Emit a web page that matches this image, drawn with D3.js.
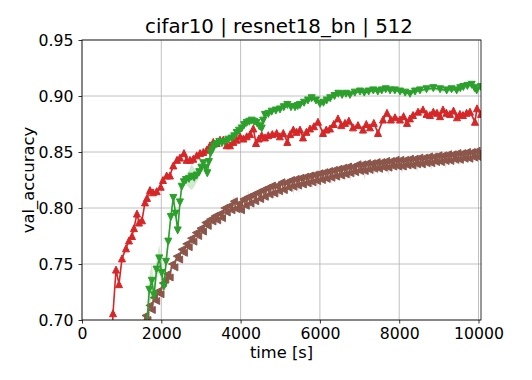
<!DOCTYPE html>
<html>
<head>
<meta charset="utf-8">
<script src="https://cdn.jsdelivr.net/npm/d3@7"></script>
<style>
  body { margin: 0; background: #fff; }
  svg { display: block; }
  text { font-family: "DejaVu Sans", sans-serif; fill: #000; }
</style>
</head>
<body>
<div id="chart"></div>
<script>
// [time s, mean val_accuracy, std]
const redRun = [
  [690,0.620],[782,0.706],[858,0.745],[933,0.732],[1009,0.755],[1110,0.764],[1185,0.771],
  [1261,0.775],[1311,0.782],[1387,0.795],[1437,0.787],[1513,0.789],[1589,0.805],[1639,0.809],
  [1715,0.816],[1790,0.814],[1884,0.815],[1985,0.819],[2043,0.825],[2136,0.829],[2219,0.829],
  [2303,0.838],[2396,0.843],[2472,0.845],[2572,0.849],[2640,0.843],[2724,0.843],[2807,0.844],
  [2893,0.847],[2976,0.849],[3059,0.850],[3145,0.852],[3228,0.856],[3311,0.859],[3397,0.858],
  [3480,0.861],[3564,0.861],[3649,0.856],[3733,0.856],[3816,0.859],[3902,0.861],[3985,0.864],
  [4070,0.862],[4154,0.864],[4240,0.866],[4320,0.871],[4388,0.858],[4460,0.862],[4532,0.865],
  [4615,0.863],[4698,0.865],[4800,0.866],[4910,0.867],[4990,0.864],[5077,0.867],[5178,0.859],
  [5250,0.866],[5329,0.870],[5410,0.868],[5498,0.870],[5574,0.863],[5660,0.868],[5750,0.871],
  [5850,0.873],[5952,0.877],[6078,0.867],[6160,0.870],[6255,0.871],[6350,0.875],[6456,0.880],
  [6540,0.874],[6633,0.876],[6730,0.878],[6835,0.872],[6961,0.874],[7087,0.870],[7170,0.875],
  [7263,0.872],[7360,0.876],[7465,0.867],[7591,0.879],[7692,0.885],[7790,0.879],[7894,0.881],
  [8020,0.879],[8110,0.882],[8197,0.876],[8270,0.880],[8348,0.883],[8474,0.886],[8600,0.888],
  [8690,0.884],[8777,0.883],[8860,0.886],[8953,0.885],[9030,0.882],[9104,0.888],[9190,0.885],
  [9281,0.884],[9370,0.887],[9458,0.881],[9530,0.884],[9609,0.883],[9700,0.885],[9785,0.886],
  [9911,0.877],[9962,0.889],[10063,0.884]
];

const greenRun = [
  [1590,0.675,0.010],[1697,0.727,0.012],[1760,0.735,0.016],[1816,0.722,0.010],[1880,0.745,0.010],
  [1949,0.755,0.012],[2010,0.742,0.010],[2068,0.730,0.008],[2120,0.752,0.008],[2176,0.770,0.006],
  [2240,0.792,0.005],[2303,0.809,0.004],[2360,0.795,0.005],[2414,0.780,0.006],[2470,0.805,0.005],
  [2514,0.819,0.004],[2570,0.823,0.004],[2623,0.825,0.004],[2700,0.826,0.008],[2767,0.828,0.012],
  [2830,0.827,0.008],[2893,0.829,0.006],[2958,0.832,0.004],[3010,0.836,0.003],[3059,0.840,0.003],
  [3110,0.836,0.003],[3160,0.831,0.003],[3200,0.841,0.003],[3246,0.849],[3290,0.852],[3329,0.855],
  [3400,0.857],[3463,0.859],[3530,0.858],[3606,0.859],[3690,0.861],[3775,0.862],[3840,0.864],
  [3902,0.867],[3960,0.869],[4028,0.871],[4090,0.874],[4154,0.876],[4220,0.877],[4280,0.878],
  [4340,0.877],[4406,0.876],[4470,0.873],[4532,0.871],[4570,0.878],[4615,0.883],[4700,0.884],
  [4784,0.886],[4890,0.887],[4994,0.888],[5090,0.890],[5178,0.892],[5270,0.890],[5372,0.890],
  [5440,0.891],[5498,0.892],[5600,0.894],[5700,0.896],[5793,0.898],[5900,0.896],[6002,0.893],
  [6090,0.894],[6171,0.896],[6260,0.898],[6370,0.900],[6464,0.902],[6560,0.901],[6659,0.902],
  [6759,0.901],[6880,0.903],[7011,0.904],[7120,0.903],[7230,0.904],[7346,0.905],[7460,0.904],
  [7560,0.905],[7660,0.906],[7768,0.905],[7890,0.905],[8020,0.904],[8150,0.903],[8272,0.902],
  [8400,0.904],[8524,0.905],[8690,0.906],[8860,0.907],[9030,0.906],[9198,0.905],[9320,0.906],
  [9450,0.905],[9540,0.907],[9617,0.908],[9720,0.909],[9828,0.910],[9900,0.907],[9954,0.905],
  [10063,0.908]
];

const brownRun = [
  [1540,0.695],[1600,0.704],[1650,0.700],[1700,0.713],[1760,0.709],[1810,0.720],[1870,0.717],
  [1920,0.726],[1980,0.723],[2040,0.733],[2100,0.736],[2150,0.741],[2210,0.738],[2270,0.750],
  [2330,0.747],[2390,0.757],[2450,0.754],[2510,0.763],[2570,0.760],[2630,0.768],[2690,0.765],
  [2750,0.773],[2810,0.770],[2870,0.778],[2930,0.775],[2990,0.782],[3050,0.779],[3110,0.787],
  [3170,0.784],[3230,0.790],[3290,0.788],[3350,0.793],[3410,0.789],[3470,0.795],[3530,0.791],
  [3590,0.800],[3650,0.796],[3710,0.802],[3770,0.798],[3830,0.806,0.005],[3890,0.799],[3950,0.804],
  [4010,0.798],[4070,0.808],[4130,0.802],[4190,0.810,0.006],[4250,0.804],[4310,0.812],[4370,0.806],
  [4430,0.814],[4490,0.808],[4550,0.816],[4610,0.810,0.006],[4670,0.818],[4730,0.812],[4790,0.820],
  [4850,0.813],[4910,0.820],[4970,0.815,0.006],[5030,0.823],[5090,0.816],[5150,0.823],[5210,0.818],
  [5270,0.825],[5330,0.819,0.007],[5390,0.826],[5450,0.820,0.007],[5510,0.827],[5570,0.821],[5630,0.828],
  [5690,0.822],[5750,0.829],[5810,0.823,0.006],[5870,0.830],[5930,0.824,0.007],[5990,0.831],[6050,0.825],
  [6110,0.832],[6170,0.826],[6230,0.833],[6290,0.827,0.006],[6350,0.834],[6410,0.828],[6470,0.835],
  [6530,0.829],[6590,0.836],[6650,0.830,0.006],[6710,0.837],[6770,0.831,0.007],[6830,0.837],[6890,0.832],
  [6950,0.839],[7010,0.833],[7070,0.839],[7130,0.833,0.008],[7190,0.840],[7250,0.834],[7310,0.840],
  [7370,0.835,0.006],[7430,0.841],[7490,0.835],[7550,0.841],[7610,0.836],[7670,0.842],[7730,0.836,0.007],
  [7790,0.842],[7850,0.837],[7910,0.843],[7970,0.837],[8030,0.843],[8090,0.837,0.006],[8150,0.843],
  [8210,0.838],[8270,0.844],[8330,0.838],[8390,0.844],[8450,0.839,0.007],[8510,0.845],[8570,0.839],
  [8630,0.845],[8690,0.840],[8750,0.846],[8810,0.840,0.006],[8870,0.846],[8930,0.841],[8990,0.847],
  [9050,0.841],[9110,0.847],[9170,0.842,0.007],[9230,0.848],[9290,0.842],[9350,0.848],[9410,0.843],
  [9470,0.849],[9530,0.843,0.006],[9590,0.849],[9650,0.844],[9710,0.850],[9770,0.844],[9830,0.850],
  [9890,0.845],[9950,0.851],[10010,0.845],[10063,0.850]
];

const xTicks = [0, 2000, 4000, 6000, 8000, 10000];
const yTicks = [0.70, 0.75, 0.80, 0.85, 0.90, 0.95];

var width = 532,
    height = 380,
    pLeft = 82, pRight = 481, pTop = 40, pBottom = 320;

var svg = d3.select('#chart')
            .append('svg')
            .attr('width', width)
            .attr('height', height);

var xScale = d3.scaleLinear().domain([0, 10063]).range([pLeft, pRight]);
var yScale = d3.scaleLinear().domain([0.70, 0.95]).range([pBottom, pTop]);

svg.append('clipPath')
   .attr('id', 'plotclip')
   .append('rect')
   .attr('x', pLeft).attr('y', pTop)
   .attr('width', pRight - pLeft).attr('height', pBottom - pTop);

// grid
var grid = svg.append('g');
grid.selectAll('.gx').data(xTicks).enter().append('line')
    .attr('x1', d => xScale(d)).attr('x2', d => xScale(d))
    .attr('y1', pTop).attr('y2', pBottom)
    .attr('stroke', '#b0b0b0').attr('stroke-width', 0.8);
grid.selectAll('.gy').data(yTicks).enter().append('line')
    .attr('y1', d => yScale(d)).attr('y2', d => yScale(d))
    .attr('x1', pLeft).attr('x2', pRight)
    .attr('stroke', '#b0b0b0').attr('stroke-width', 0.8);

var r = 3.5;
var markers = {
  up:    `M0,${-r}L${-r},${r}L${r},${r}Z`,
  down:  `M0,${r}L${-r},${-r}L${r},${-r}Z`,
  left:  `M${-r},0L${r},${-r}L${r},${r}Z`
};

var plot = svg.append('g').attr('clip-path', 'url(#plotclip)');

function drawRun(data, color, marker) {
  var g = plot.append('g');
  var band = d3.area()
               .x(d => xScale(d[0]))
               .y0(d => yScale(d[1] - (d[2] || 0.002)))
               .y1(d => yScale(d[1] + (d[2] || 0.002)));
  g.append('path')
   .attr('d', band(data))
   .attr('fill', color)
   .attr('fill-opacity', 0.22);
  var line = d3.line().x(d => xScale(d[0])).y(d => yScale(d[1]));
  g.append('path')
   .attr('d', line(data))
   .attr('fill', 'none')
   .attr('stroke', color)
   .attr('stroke-width', 1.6)
   .attr('stroke-linejoin', 'round');
  g.selectAll('.m').data(data).enter().append('path')
   .attr('d', markers[marker])
   .attr('transform', d => `translate(${xScale(d[0])},${yScale(d[1])})`)
   .attr('fill', color)
   .attr('stroke', color)
   .attr('stroke-width', 1)
   .attr('stroke-linejoin', 'miter');
}

drawRun(redRun, '#d62728', 'up');
drawRun(brownRun, '#8c564b', 'left');
drawRun(greenRun, '#2ca02c', 'down');

// axes
var xAxis = d3.axisBottom(xScale).tickValues(xTicks).tickFormat(d3.format('d')).tickSize(3.5).tickPadding(4).tickSizeOuter(0);
var yAxis = d3.axisLeft(yScale).tickValues(yTicks).tickFormat(d3.format('.2f')).tickSize(3.5).tickPadding(5).tickSizeOuter(0);

var gx = svg.append('g').attr('transform', `translate(0,${pBottom})`).call(xAxis);
var gy = svg.append('g').attr('transform', `translate(${pLeft},0)`).call(yAxis);
[gx, gy].forEach(function(g) {
  g.select('.domain').remove();
  g.selectAll('line').attr('stroke', '#000').attr('stroke-width', 0.8);
  g.selectAll('text').style('font-size', '15.7px').style('font-family', '"DejaVu Sans", sans-serif').attr('fill', '#000');
});

// spines
svg.append('rect')
   .attr('x', pLeft).attr('y', pTop)
   .attr('width', pRight - pLeft).attr('height', pBottom - pTop)
   .attr('fill', 'none').attr('stroke', '#000').attr('stroke-width', 0.8);

svg.append('text')
   .attr('x', 279).attr('y', 33)
   .attr('text-anchor', 'middle')
   .style('font-size', '19.8px')
   .text('cifar10 | resnet18_bn | 512');

svg.append('text')
   .attr('x', (pLeft + pRight) / 2).attr('y', 358)
   .attr('text-anchor', 'middle')
   .style('font-size', '16.3px')
   .text('time [s]');

svg.append('text')
   .attr('transform', `translate(33.5,180) rotate(-90)`)
   .attr('text-anchor', 'middle')
   .style('font-size', '16.4px')
   .text('val_accuracy');
</script>
</body>
</html>
